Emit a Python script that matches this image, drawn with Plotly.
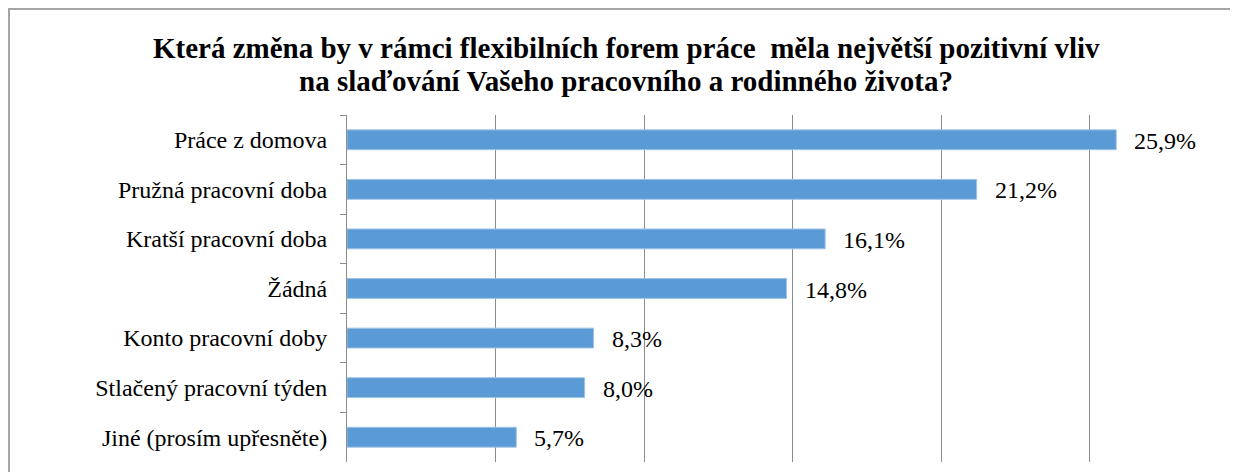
import plotly.graph_objects as go

categories = ["Práce z domova", "Pružná pracovní doba", "Kratší pracovní doba", "Žádná",
              "Konto pracovní doby", "Stlačený pracovní týden", "Jiné (prosím upřesněte)"]
values = [25.9, 21.2, 16.1, 14.8, 8.3, 8.0, 5.7]
title_lines = ["Která změna by v rámci flexibilních forem práce  měla největší pozitivní vliv",
               "na slaďování Vašeho pracovního a rodinného života?"]

SERIF = "Liberation Serif"

OFF = 8  # page body margin
W, H = 1238, 472
L, T = 347 - OFF, 115 - OFF
R = W - (1238 - OFF)
B = H - (462 - OFF)
pw, ph = W - L - R, H - T - B

def px_x(xwin):
    return (xwin - OFF - L) / pw

def px_y(ywin):
    return (H - B - (ywin - OFF)) / ph

def fmt(v):
    return f"{v:.1f}".replace(".", ",") + "%"

fig = go.Figure()
fig.add_trace(go.Bar(
    x=values, y=categories, orientation="h",
    marker=dict(color="#5B9BD5", line=dict(color="#9DC3E6", width=1)),
    width=0.4, hoverinfo="skip",
))

for c, v in zip(categories, values):
    fig.add_annotation(x=v, y=c, text=fmt(v), showarrow=False, xanchor="left",
                       xshift=16, yshift=-1,
                       font=dict(family=SERIF, size=24, color="#000"))

for line, yw in zip(title_lines, [48, 81]):
    fig.add_annotation(x=px_x(626), y=px_y(yw), xref="paper", yref="paper",
                       text="<b>" + line + "</b>", showarrow=False,
                       xanchor="center", yanchor="middle",
                       font=dict(family=SERIF, size=29, color="#000"))

fig.add_shape(type="rect", xref="paper", yref="paper",
              x0=(1 - L) / pw, x1=1.05, y0=-0.2, y1=px_y(9),
              line=dict(color="#A6A6A6", width=2), fillcolor="rgba(0,0,0,0)", layer="below")

fig.update_layout(
    width=W, height=H, margin=dict(l=L, r=R, t=T, b=B, autoexpand=False),
    plot_bgcolor="white", paper_bgcolor="white", showlegend=False,
    font=dict(family=SERIF, size=24, color="#000"),
    xaxis=dict(range=[0, 30], dtick=5, showgrid=True, gridcolor="#8C8C8C", gridwidth=1,
               showticklabels=False, zeroline=False, showline=False, ticks=""),
    yaxis=dict(autorange="reversed", type="category", showline=True, linecolor="#8C8C8C",
               linewidth=1, ticks="outside", tickson="boundaries", ticklen=6,
               tickcolor="#8C8C8C", ticklabelstandoff=14,
               tickfont=dict(family=SERIF, size=24, color="#000")),
)

fig.write_html("out.html")
